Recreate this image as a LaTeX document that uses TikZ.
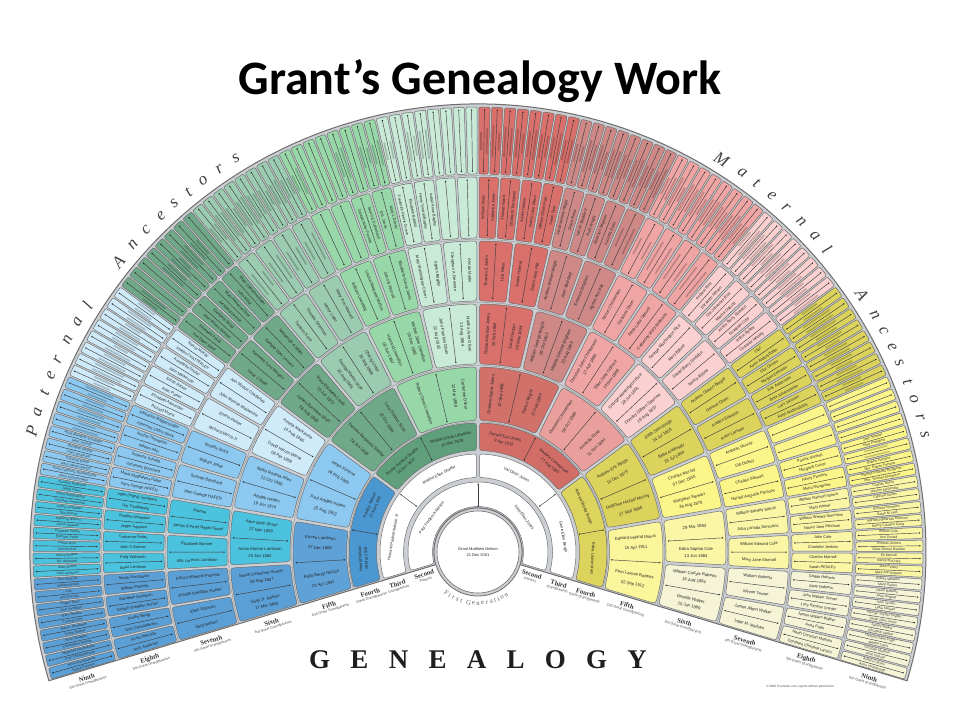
\documentclass[tikz,border=0pt]{standalone}
\usepackage{fontspec}
\setmainfont{Liberation Serif}
\setsansfont{Liberation Sans}
\newfontfamily\titlefont{Carlito}
\definecolor{fangray}{HTML}{CBCFD3}
\definecolor{fanedge}{HTML}{6E6E6E}
\definecolor{cs0}{HTML}{5A9FD6}\definecolor{cs1}{HTML}{4BC3DE}\definecolor{cs2}{HTML}{8CC8F0}\definecolor{cs3}{HTML}{CFEBFA}
\definecolor{cs4}{HTML}{6FA98A}\definecolor{cs5}{HTML}{9BCBB0}\definecolor{cs6}{HTML}{97D7A8}\definecolor{cs7}{HTML}{C9EAD6}
\definecolor{cs8}{HTML}{D9706B}\definecolor{cs9}{HTML}{CE8987}\definecolor{cs10}{HTML}{EFA5A3}\definecolor{cs11}{HTML}{FBD0D0}
\definecolor{cs12}{HTML}{DBD35C}\definecolor{cs13}{HTML}{FCF58A}\definecolor{cs14}{HTML}{FAF6A6}\definecolor{cs15}{HTML}{F6F4D6}
\definecolor{cv0}{HTML}{5FA2D8}\definecolor{cv1}{HTML}{8CC8F0}\definecolor{cv2}{HTML}{6FA98A}\definecolor{cv3}{HTML}{97D7A8}
\definecolor{cv4}{HTML}{D2706A}\definecolor{cv5}{HTML}{E9A09D}\definecolor{cv6}{HTML}{DCD35C}\definecolor{cv7}{HTML}{FBF59C}
\definecolor{cf0}{HTML}{4B97D1}\definecolor{cf1}{HTML}{5F9F7C}\definecolor{cf2}{HTML}{D26C66}\definecolor{cf3}{HTML}{DDD45E}
\tikzset{
 cellbox/.style={draw=fanedge,line width=.5pt},
 cellline/.style={draw=black!75,line width=.45pt},
 celldot/.style={fill=black!85},
 greekbar/.style={draw=black,line width=1.7pt,opacity=.2},
 tg2/.style={inner sep=0pt,align=center,text=black!85,font=\sffamily\fontsize{4}{6}\selectfont},
 tg3/.style={inner sep=0pt,align=center,text=black!85,font=\sffamily\fontsize{4}{6}\selectfont},
 tg4/.style={inner sep=0pt,align=center,text=black!85,font=\sffamily\fontsize{4}{6}\selectfont},
 tg5/.style={inner sep=0pt,align=center,text=black!85,font=\sffamily\fontsize{4.2}{10}\selectfont},
 tg6/.style={inner sep=0pt,align=center,text=black!85,font=\sffamily\fontsize{4.2}{7}\selectfont},
 tg7/.style={inner sep=0pt,align=center,text=black!85,font=\sffamily\fontsize{4.1}{5}\selectfont},
 tg8/.style={inner sep=0pt,align=center,text=black!85,font=\sffamily\fontsize{3.9}{5}\selectfont},
 tg9/.style={inner sep=0pt,align=center,text=black!80,font=\sffamily\fontsize{3.4}{4}\selectfont},
 arcfont/.style={inner sep=0pt,text=black!75,font=\itshape\fontsize{17}{17}\selectfont},
 firstfont/.style={inner sep=0pt,text=black!65,font=\fontsize{6.6}{7}\selectfont},
 ordfont/.style={inner sep=0pt,text=black!80,font=\bfseries\fontsize{6.6}{7}\selectfont},
 smallfont/.style={inner sep=0pt,text=black!70,font=\sffamily\fontsize{3.6}{4}\selectfont},
}
% rounded annular sector: r-in r-out angle-high angle-low half-gap corner colour
\newcommand{\fancell}[7]{%
 \pgfmathsetmacro\rin{#1+#6}\pgfmathsetmacro\rout{#2-#6}%
 \pgfmathsetmacro\hia{#3-#5/#1*57.296}\pgfmathsetmacro\hib{#3-#5/\rin*57.296}%
 \pgfmathsetmacro\hic{#3-#5/\rout*57.296}\pgfmathsetmacro\hid{#3-#5/#2*57.296}%
 \pgfmathsetmacro\loa{#4+#5/#1*57.296}\pgfmathsetmacro\lob{#4+#5/\rin*57.296}%
 \pgfmathsetmacro\loc{#4+#5/\rout*57.296}\pgfmathsetmacro\lod{#4+#5/#2*57.296}%
 \pgfmathsetmacro\hiae{\hia-#6/#1*57.296}\pgfmathsetmacro\loae{\loa+#6/#1*57.296}%
 \pgfmathsetmacro\hide{\hid-#6/#2*57.296}\pgfmathsetmacro\lode{\lod+#6/#2*57.296}%
 \path[cellbox,fill=#7] (\lob:\rin pt) .. controls (\loa:#1pt) .. (\loae:#1pt)
   arc[start angle=\loae,end angle=\hiae,radius=#1pt]
   .. controls (\hia:#1pt) .. (\hib:\rin pt) -- (\hic:\rout pt)
   .. controls (\hid:#2pt) .. (\hide:#2pt)
   arc[start angle=\hide,end angle=\lode,radius=#2pt]
   .. controls (\lod:#2pt) .. (\loc:\rout pt) -- cycle;
}
% people of cell i of generation g
\newcommand{\pn}[4]{%
 \pgfmathsetmacro\spn{213.4/2^(#1-2)}%
 \pgfmathsetmacro\acen{196.7-(#2+.5)*\spn}%
 \pgfmathsetmacro\rmid{{0,0,58,86.5,115,158,218,281,345,411}[#1]}%
 \pgfmathsetmacro\apa{\acen+\spn/4}\pgfmathsetmacro\apb{\acen-\spn/4}%
 \pgfmathsetmacro\rota{#1<5 ? \apa-90 : (\apa>90 ? \apa-180 : \apa)}%
 \pgfmathsetmacro\rotb{#1<5 ? \apb-90 : (\apb>90 ? \apb-180 : \apb)}%
 \node[tg#1,rotate=\rota] (p#1-#2-a) at (\apa:\rmid pt) {#3};
 \node[tg#1,rotate=\rotb] (p#1-#2-b) at (\apb:\rmid pt) {#4};
}
% unreadable text in the reference: soft bars, not invented names
\newcommand{\greek}[2]{%
 \pgfmathsetmacro\spn{213.4/2^(#1-2)}%
 \pgfmathsetmacro\acen{196.7-(#2+.5)*\spn}%
 \pgfmathsetmacro\rmid{{0,0,58,86.5,115,158,218,281,345,411}[#1]}%
 \pgfmathsetmacro\hla{9+mod(#2*7,8)}\pgfmathsetmacro\hlb{8+mod(#2*5,9)}%
 \pgfmathsetmacro\apa{\acen+\spn/4}\pgfmathsetmacro\apb{\acen-\spn/4}%
 \pgfmathsetmacro\ga{\rmid-\hla}\pgfmathsetmacro\gb{\rmid+\hla}%
 \pgfmathsetmacro\gc{\rmid-\hlb}\pgfmathsetmacro\gd{\rmid+\hlb}%
 \draw[greekbar] (\apa:\ga pt) -- (\apa:\gb pt);
 \draw[greekbar] (\apb:\gc pt) -- (\apb:\gd pt);
}
% generation labels below the two base edges
\newcommand{\genlab}[4]{% rmid, ord, small, offset
 \pgfmathsetmacro\ea{atan(#4/#1)}\pgfmathsetmacro\eb{atan((#4+5.5)/#1)}%
 \pgfmathsetmacro\lra{veclen(#1,#4)}\pgfmathsetmacro\lrb{veclen(#1,#4+5.5)}%
 \pgfmathsetmacro\la{196.7+\ea}\pgfmathsetmacro\lb{196.7+\eb}%
 \pgfmathsetmacro\ma{-16.7-\ea}\pgfmathsetmacro\mb{-16.7-\eb}%
 \node[ordfont,rotate=16.7] (lo#1) at (\la:\lra pt) {#2};
 \node[smallfont,rotate=16.7] (ls#1) at (\lb:\lrb pt) {#3};
 \node[ordfont,rotate=-16.7] (ro#1) at (\ma:\lra pt) {#2};
 \node[smallfont,rotate=-16.7] (rs#1) at (\mb:\lrb pt) {#3};
}
\begin{document}
\begin{tikzpicture}[x=1pt,y=1pt]
\useasboundingbox (0,0) rectangle (960,-720);
\fill[white] (0,0) rectangle (960,-720);
\node[inner sep=0pt,font=\titlefont\bfseries\fontsize{48}{48}\selectfont] (title) at (480,-81) {Grant’s Genealogy Work};
\node[inner sep=0pt,text=black!88,font=\bfseries\fontsize{27}{27}\selectfont\addfontfeatures{LetterSpace=75}] (gen) at (478,-660) {GENEALOGY};
\node[inner sep=0pt,text=black!70,font=\sffamily\fontsize{3.1}{4}\selectfont] (credit) at (800,-687) {© 2008 TreeSeek.com, reprint without permission};
\begin{scope}[shift={(478pt,-552pt)}]
% ground of the fan
\path[draw=fanedge,line width=1pt,fill=fangray] (196.7:44pt) -- (196.7:448pt)
  arc[start angle=196.7,end angle=-16.7,radius=448pt] -- (-16.7:44pt) arc[start angle=-16.7,end angle=196.7,radius=44pt] -- cycle;
\foreach \rr in {130,186.5,249.5,312.5,376.5}
  \draw[draw=fanedge!80,line width=.35pt] (196.7:\rr pt) arc[start angle=196.7,end angle=-16.7,radius=\rr pt];
% cells
\foreach \g/\cnt/\ra/\rb/\hg/\cc/\lin/\lout in {
  2/1/45.5/70/1.5/5/46/68,
  3/2/74.5/98/1.5/5/77/96,
  4/4/101.5/129/1.5/6/103/127,
  5/8/131.5/185/1.5/7/134/182,
  6/16/188/248/1.5/7/191/245,
  7/32/251/311/1.2/6/254/308,
  8/64/314/375/1/5/317/372,
  9/128/378/445/.8/4/381/442}{
 \pgfmathtruncatemacro\last{\cnt-1}
 \pgfmathsetmacro\cspan{213.4/\cnt}
 \foreach \i in {0,...,\last}{
  \pgfmathsetmacro\hi{196.7-\i*\cspan}
  \pgfmathsetmacro\lo{\hi-\cspan}
  \pgfmathsetmacro\am{\hi-\cspan/2}
  \ifnum\g<4 \def\col{white}\else
   \ifnum\g=4 \pgfmathtruncatemacro\ci{\i}\def\col{cf\ci}\else
    \ifnum\g=5 \pgfmathtruncatemacro\ci{\i}\def\col{cv\ci}\else
     \pgfmathtruncatemacro\ci{floor(\i/2^(\g-6))}\def\col{cs\ci}\fi\fi\fi
  \fancell{\ra}{\rb}{\hi}{\lo}{\hg}{\cc}{\col}
  \draw[cellline] (\am:\lin pt) -- (\am:\lout pt);
  \fill[celldot] (\am:\lin pt) circle[radius=.75pt] (\am:\lout pt) circle[radius=.75pt];
 }
}
% centre
\path[draw=fanedge,line width=.8pt,fill=fangray] (0,0) circle[radius=44pt];
\path[draw=fanedge,line width=.6pt,fill=white] (0,0) circle[radius=41pt];
\node[tg2] (root) at (0,0) {Grant Matthew Nelson\\21 Dec 2001};
% people
\pn{2}{0}{Paul Frederick Nelson}{Kate Ellen Jones}
\pn{3}{0}{Howard Pauline Nelson Jr}{Martha Ellen Shaffer}
\pn{3}{1}{Val Dean Jones}{Gene Ellen Bergh}
\pn{4}{0}{Harold Nelson\\29 Mar 1918}{Pauline Nelson\\27 Nov 1929}
\pn{4}{1}{Ernest Fredrick Shaffer\\14 Dec 1927}{Robbie Chloe Llewellyn\\15 Mar 1929}
\pn{4}{2}{Donald Earl Jones\\9 Apr 1919}{Marlene Christensen\\27 Aug 1920}
\pn{4}{3}{Andrew Morley Bergh}{Edna Louise Mars}
\pn{5}{0}{Rolla Bengt Nelson\\23 Apr 1891}{Emma Lambson\\07 Dec 1889}
\pn{5}{1}{Paul Adolph Hatten\\25 Aug 1902}{Helen Foreine\\26 Feb 1905}
\pn{5}{2}{Thomas Benjamin Shaffer\\26 Jun 1893}{Lucy Gordon Scott\\10 Oct 1894}
\pn{5}{3}{Robert Owen Llewellyn}{Catherine Oliver\\12 Mar 1898}
\pn{5}{4}{Graeme Spear Jones\\10 Sep 1888}{Agnes Wright\\27 Feb 1890}
\pn{5}{5}{Christian Christensen\\08 Oct 1888}{Amanda Rose\\11 Nov 1891}
\pn{5}{6}{Andrew Eric Bergh\\15 Dec 1876}{Delphine Hazael Murray\\27 Sep 1886}
\pn{5}{7}{Edward Ireland Morris\\15 Apr 1911}{Fern Lavinia Roberts\\02 Sep 1912}
\pn{6}{0}{Sanji Jr. Nelson\\17 Mar 1860}{Sarah Catherine Hunter\\28 Sep 1867}
\pn{6}{1}{Amon Marion Lambson\\20 Jan 1862}{Alice Mary Stuart\\27 Nov 1859}
\pn{6}{2}{Adolph Hatten\\16 Jun 1874}{Nellie Rosetta Allen\\12 Oct 1880}
\pn{6}{3}{David Hyrum Morse\\09 Apr 1859}{Amelia Mackenzie\\14 Aug 1860}
\pn{6}{4}{James Burnham Shaff\\28 Aug 1865}{Mary Elizabeth Lamb\\15 Jun 1870}
\pn{6}{5}{George Martin Scott\\30 Aug 1865}{Charity Lister\\30 Aug 1869}
\pn{6}{6}{Harvard Llewellyn\\06 Jun 1867}{Mother Jane Llewellyn\\04 Dec 1865}
\pn{6}{7}{John Franklin Oliver\\22 Aug 1845}{Martha Jane Oliver\\13 Aug 1864}
\pn{6}{8}{Richard Nelson Jones\\02 Feb 1862}{Sarah Harper\\06 May 1864}
\pn{6}{9}{William George Wright\\06 Oct 1862}{Matilda Stewart Brigham\\23 Aug 1864}
\pn{6}{10}{Christian John Christensen\\17 Apr 1866}{Ellen Jane Odeurd\\14 Nov 1868}
\pn{6}{11}{George Washington Rice\\28 Jun 1851}{Dorothy Dilleen Sparrow\\26 Aug 1857}
\pn{6}{12}{Edith Sem Bergh\\24 Jul 1858}{Bella Andersdtr\\25 Jul 1854}
\pn{6}{13}{Charles Murray\\07 Dec 1855}{Margaret Stewart\\29 Aug 1870}
\pn{6}{14}{29 Mar 1883}{Edna Sophia Cole\\13 Jun 1884}
\pn{6}{15}{William Carlyle Roberts\\18 Aug 1884}{Rosella Walker\\15 Jan 1889}
\pn{7}{0}{Sanji Nelson}{Ellen Johnson}
\pn{7}{1}{Joseph Sneddon Hunter}{Eliza Catherine Phoenix}
\pn{7}{2}{Alfa Lorenzo Lambson}{Elizabeth Bonner}
\pn{7}{3}{James (Lorne) Nephi Stuart}{Martha}
\pn{7}{4}{John George HAFEN}{Susette Bosshard}
\pn{7}{5}{William Jolley}{Roselia Stuck}
\pn{7}{6}{Richard Morris Jr}{Emma Parker}
\pn{7}{7}{John Monroe Mackenzie}{Ann Morton Chatterley}
\pn{7}{8}{Isaac J Shaff}{Permelia June Morgan}
\pn{7}{9}{Sarepta Dyer Lennox}{Nehemiah A Miller}
\pn{7}{10}{Tamson Scott}{Thomas Dearman}
\pn{7}{11}{Henry Lister}{Mary Ann Howard}
\pn{7}{12}{William Lewelling}{Louisa Margaret Mullins}
\pn{7}{13}{John B Penrod}{Elizabeth Grace Jarvis}
\pn{7}{14}{Mary Washington Oliver}{Agnes Bagley}
\pn{7}{15}{Cleophas A Freeman}{Almda Mader}
\pn{7}{16}{Thomas E Jones}{Lois Mace}
\pn{7}{17}{Austin Harmer}{Sarah Jane Pile}
\pn{7}{18}{Andrew William Wright}{Jean Stoddard}
\pn{7}{19}{Emerson Brigham}{Agnes Ann Pile}
\pn{7}{20}{Simon Christensen}{Christina Olsen}
\pn{7}{21}{Peter Lotta Odeurd}{Catherine Mary Mathison}
\pn{7}{22}{George Washington Rice}{Mary Bybee}
\pn{7}{23}{Daniel Berry Sheldon}{Nancy Bybee}
\pn{7}{24}{Andrew Olason Bergof}{Gertrud Olsen}
\pn{7}{25}{Anders Eriksson}{Karin Larsson}
\pn{7}{26}{Ambilan Murray}{Gill Dickey}
\pn{7}{27}{Charles Stewart}{Harriet Augusta Parsons}
\pn{7}{28}{William Wesley Morris}{Julia Lurinda Simmons}
\pn{7}{29}{William Edward Cole}{Mary Jane Marnall}
\pn{7}{30}{William Roberts}{Minnie Tavner}
\pn{7}{31}{James Albert Walker}{Inger M. Madsen}
\pn{8}{0}{Nels Anderson}{Kirsta Pehrsdtr}
\pn{8}{1}{Jens Christoffersen}{Dorthy Bengt}
\pn{8}{2}{Joseph Sneddon Hunter}{Elizabeth Davidson}
\pn{8}{3}{William Phoenix}{Sarah Ann Brown}
\pn{8}{4}{Boaz Lambson}{Polly Walworth}
\pn{8}{5}{John C Bonner}{Catharine Potter}
\pn{8}{6}{Jeppe Jeppson}{Kirstine Nilsdotter}
\pn{8}{7}{Ole Trinidadsen}{Inger (Ingrid) Jacobsen}
\pn{8}{8}{Hans George HAFEN}{Maria Magdalena Haller}
\pn{8}{9}{Johannes Bosshard}{Susanna Schoop}
\pn{8}{10}{William Allis}{Rachel Thompson}
\pn{8}{11}{Johannes Ladnu Stuck}{Katharine Roggensinger}
\pn{8}{12}{Richard Morris}{Elizabeth Alexander}
\pn{8}{13}{Isaac Parker}{Sarah Parker}
\pn{8}{14}{John Mackenzie}{Annabelle Shuter}
\pn{8}{15}{Joseph CHATTERLEY}{Nancy McKay}
\pn{8}{16}{Ann Ebert Shaff}{Elizabeth Frank}
\pn{8}{17}{John Wilson Morgan}{Elizabeth Sirley}
\pn{8}{18}{Archibald Lennox}{Mary Rebecca Dyer}
\pn{8}{19}{John Miller}{Mary Catharine Elder}
\greek{8}{20}\greek{8}{21}\greek{8}{22}\greek{8}{23}
\pn{8}{26}{Joseph Kirby Penrod}{Sarah E Sutherland}
\pn{8}{27}{S.G. Jarvis}{Mary L Doxey}
\pn{8}{28}{Frederick Henrik Grove}{Elizabeth Bobbitt}
\pn{8}{29}{Henry Tyndall Bagley}{Isabel Anne Bagley}
\pn{8}{32}{William Jones}{Catherine Jones}
\pn{8}{33}{Thomas Nabb}{Elizabeth Thompson}
\pn{8}{34}{Austin Harmer}{Nancy Lane Eaton}
\pn{8}{35}{William Oliver Pratt}{Sarah Dyer}
\pn{8}{36}{Jacob Wesley Wright}{Grace Reed}
\pn{8}{37}{Lyman Stoddard}{Ruth Wright}
\pn{8}{38}{Emerson Brigham}{Lucinda Davis}
\greek{8}{39}\greek{8}{40}\greek{8}{41}\greek{8}{42}\greek{8}{43}
\pn{8}{44}{Andrew Rice}{Elizabeth Nelson}
\pn{8}{45}{Ole Johannes Rice}{Martha Odeurd}
\pn{8}{46}{Anson Berry Sheldon}{Elisabeth Cole}
\pn{8}{47}{Arthur Bybee}{Charlotte Whitely}
\pn{8}{48}{Olof}{Karin Andersdotter}
\pn{8}{49}{Olof Olsson}{Margret Eriksson}
\pn{8}{50}{Erik Andersson}{Brita Johansdotter}
\pn{8}{51}{Lars Jonsson}{Karin Andersdotter}
\pn{8}{54}{Patrick Stewart}{Margaret Crane}
\pn{8}{55}{Henry Parsons}{Maria Musgrove}
\pn{8}{56}{William Ransom Morris}{Mary Rainer}
\pn{8}{57}{William Wesley Simmons}{Nancy Jane Mitchum}
\pn{8}{58}{John Cole}{Charlotte Jenkins}
\pn{8}{59}{Charles Marnall}{Sarah PENLEY}
\pn{8}{60}{Griffith Roberts}{Mary Roberts}
\pn{8}{61}{John William Tavner}{Lucy Rimeus Snyder}
\pn{8}{62}{James William Walker}{Anna Pugh}
\pn{8}{63}{North Christian Madsen}{Dorothea Christine Larson}
\pn{9}{0}{Svend Pehrson}{Kirsti Svendsdatter}
\pn{9}{1}{Poul Christophersen}{Magnhild Knudsdatter}
\pn{9}{2}{Christopher Nielsen}{Anna Olsdatter}
\pn{9}{3}{Svend Nelson}{Maren Jensdatter}
\pn{9}{4}{Thomas Dick}{Mary Snedon}
\pn{9}{5}{John Sneddon}{Englan Ross}
\pn{9}{6}{Ann Provost}{Lois}
\pn{9}{7}{William Brown}{Ann PASCAL}
\pn{9}{8}{John Lambson}{Mary Moffitt}
\pn{9}{9}{Mr. Walworth}{Mercy Rogers}
\pn{9}{10}{John Bonner}{Defiah Dyer}
\pn{9}{11}{Ephraim Potter}{Elizabeth Parker}
\pn{9}{12}{Johns Jeppson}{Ingeborg Nilsson}
\pn{9}{13}{Nils Nilsson}{Karna Larsdotter}
\pn{9}{14}{Thorsten Johanssen}{Elena Bengtsdotter}
\pn{9}{15}{Jakob Olsen}{Kerstine Anderson}
\pn{9}{16}{Hans Konrad Haller}{Anna Catherine Ruhlenbuhler}
\pn{9}{17}{Hans Jakob HAFEN}{Susanna Kunzli}
\pn{9}{18}{Hans Bosshard}{Elizabeth Wepfer}
\pn{9}{19}{Hans Schoop}{Anna Elisabeth Schneider}
\foreach \k in {20,...,32,35,36,37,38,40,41,42,43,44,45,46,47,48,52,54,55,56,58,59,64,65,...,103}{\greek{9}{\k}}
\pn{9}{108}{John Stewart}{Mary Pettigrew}
\greek{9}{109}
\pn{9}{110}{Robert Parsons}{Mrs. Robert Parsons}
\pn{9}{111}{Thomas Prichard Musgrove}{Mrs. Thomas Musgrove}
\pn{9}{112}{Charles Morris}{Teacher McDonald}
\pn{9}{113}{Chloven Rainer}{}
\pn{9}{114}{Richard Simmons}{Sarah M. Hall}
\pn{9}{115}{Barnett Hillsbrook Mitchum}{Nancy Caroline Dang}
\pn{9}{116}{William Cole}{Ann Dowell}
\pn{9}{117}{Thomas Jenkins}{Bidar Bricker Bowden}
\pn{9}{118}{Eli Marnall}{Nancy McCrary}
\pn{9}{119}{John Penley}{Mary Ann Bowers}
\pn{9}{120}{Robert Williams}{Mary Davies}
\pn{9}{121}{David Roberts}{Jane Hughes}
\pn{9}{122}{John Tavner}{Lydia Stewart}
\pn{9}{123}{George Snyder Snyder}{Sarah Ellen Jones}
\pn{9}{124}{James Walker}{Elizabeth Walker}
\pn{9}{125}{Thomas Owen Pugh}{Martha Lewis}
\pn{9}{126}{Christian Madsen}{Anne Nielsen}
\pn{9}{127}{Anders Larsen}{Anne Christensdtr}
% arc titles
\foreach \l/\a [count=\k] in {P/164.8,a/162.4,t/159.8,e/157.6,r/155.4,n/152.7,a/150.1,l/147.7,A/141.1,n/138.3,c/135.9,e/133.3,s/131.1,t/128.8,o/126.5,r/124,s/121.6}{
 \pgfmathsetmacro\rt{\a-90}
 \node[arcfont,rotate=\rt] (pa\k) at (\a:462pt) {\l};
}
\foreach \l/\a [count=\k] in {M/58.2,a/55.1,t/52.9,e/50.5,r/48.2,n/45.6,a/43.2,l/40.9,A/33.8,n/30.8,c/28.6,e/26.3,s/24.2,t/21.6,o/19.3,r/16.9,s/14.7}{
 \pgfmathsetmacro\rt{\a-90}
 \node[arcfont,rotate=\rt] (ma\k) at (\a:462pt) {\l};
}
\foreach \l/\a [count=\k] in {F/232,i/237,r/241.5,s/246.5,t/251,G/259.5,e/265,n/270,e/275,r/280,a/285,t/289.5,i/293.5,o/298,n/303.5}{
 \pgfmathsetmacro\rt{\a+90}
 \node[firstfont,rotate=\rt] (fg\k) at (\a:51.5pt) {\l};
}
\genlab{58}{Second}{Parents}{6}
\genlab{86.5}{Third}{Grandparents}{7.5}
\genlab{115}{Fourth}{Great-Grandparents}{8}
\genlab{158}{Fifth}{2nd-Great Grandparents}{8}
\genlab{218}{Sixth}{3rd-Great Grandparents}{8}
\genlab{281}{Seventh}{4th-Great Grandparents}{8}
\genlab{345}{Eighth}{5th-Great Grandparents}{8}
\genlab{411}{Ninth}{6th-Great Grandparents}{8}
\end{scope}
\end{tikzpicture}
\end{document}
